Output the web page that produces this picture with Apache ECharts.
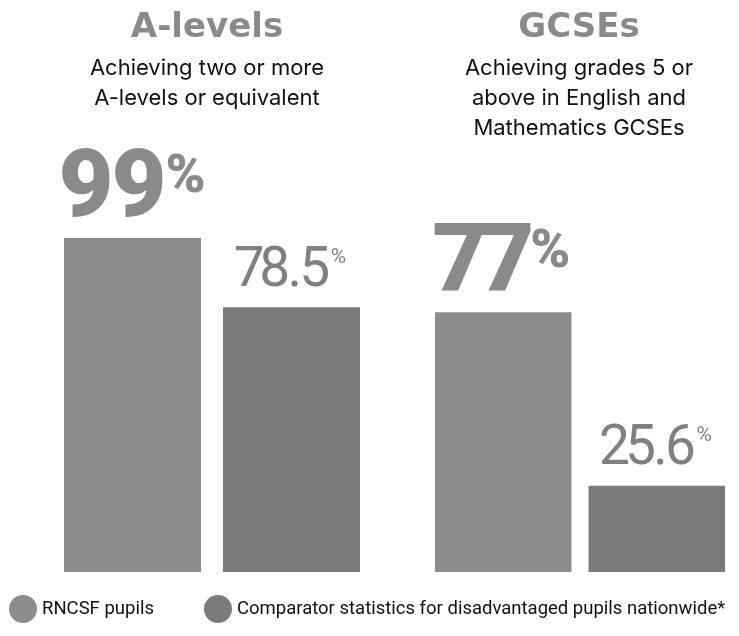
<!DOCTYPE html>
<html>
<head>
<meta charset="utf-8">
<script src="https://cdn.jsdelivr.net/npm/echarts@6/dist/echarts.min.js"></script>
<style>html,body{margin:0;padding:0;background:#fff;}#c{width:739px;height:636px;}</style>
</head>
<body>
<div id="c"></div>
<script>
// Data
const categories = ['A-levels', 'GCSEs'];
const subtitles = ['Achieving two or more\nA-levels or equivalent', 'Achieving grades 5 or\nabove in English and\nMathematics GCSEs'];
const seriesNames = ['RNCSF pupils', 'Comparator statistics for disadvantaged pupils nationwide*'];
const rncsfValues = [99, 77];
const comparatorValues = [78.5, 25.6];

const lightGrey = '#8c8c8c';
const darkGrey = '#7b7b7b';

const chart = echarts.init(document.getElementById('c'), null, {renderer: 'canvas'});

const gridTop = 234.6, gridBottom = 64;
const grids = [
  {left: 64, width: 296, top: gridTop, bottom: gridBottom},
  {left: 435, width: 290, top: gridTop, bottom: gridBottom}
];
const gaps = ['16%', '12.5%'];
const centers = [202, 574];

// tight letter spacing via per-character rich tokens
function charKey(c) { return c === '.' ? 'dot' : (c === '7' ? 'seven' : 'dig'); }
function tight(value) {
  return String(value).split('').map(c => '{' + charKey(c) + '|' + c + '}').join('') + '{p|%}';
}
const boldBase = {fontFamily: 'Roboto', fontWeight: 900, fontSize: 95, lineHeight: 80, color: '#8a8a8a'};
const boldLabel = {
  show: true, position: 'top', distance: 6,
  formatter: p => tight(p.value),
  rich: {
    dig: Object.assign({width: 53}, boldBase),
    seven: Object.assign({width: 47}, boldBase),
    dot: Object.assign({width: 24}, boldBase),
    p: {fontFamily: 'Roboto', fontWeight: 900, fontSize: 54, lineHeight: 6, verticalAlign: 'top', color: '#8a8a8a', padding: [0, 0, 0, 0]}
  }
};
const regBase = {fontFamily: 'Roboto', fontWeight: 400, fontSize: 55, lineHeight: 50, color: '#808080'};
const regLabel = {
  show: true, position: 'top', distance: 10,
  formatter: p => tight(p.value),
  rich: {
    dig: Object.assign({width: 26}, regBase),
    seven: Object.assign({width: 25}, regBase),
    dot: Object.assign({width: 14}, regBase),
    p: {fontFamily: 'Roboto', fontWeight: 400, fontSize: 21, lineHeight: 12, verticalAlign: 'top', color: '#808080', padding: [0, 0, 0, 3]}
  }
};

const series = [];
categories.forEach((cat, g) => {
  series.push({
    name: seriesNames[0], type: 'bar', xAxisIndex: g, yAxisIndex: g,
    data: [rncsfValues[g]], barGap: gaps[g], barCategoryGap: '0%',
    itemStyle: {color: lightGrey}, label: boldLabel, silent: true
  });
  series.push({
    name: seriesNames[1], type: 'bar', xAxisIndex: g, yAxisIndex: g,
    data: [comparatorValues[g]], barGap: gaps[g], barCategoryGap: '0%',
    itemStyle: {color: darkGrey}, label: regLabel, silent: true
  });
});

chart.setOption({
  animation: false,
  backgroundColor: '#fff',
  title: categories.map((cat, g) => ({
    text: cat,
    subtext: subtitles[g],
    left: centers[g], top: 3, textAlign: 'center',
    itemGap: 5,
    textStyle: {fontFamily: 'DejaVu Sans', fontWeight: 'bold', fontSize: 34, color: '#8a8a8a', lineHeight: 40},
    subtextStyle: {fontFamily: 'Inter', fontWeight: 400, fontSize: 22, color: '#111', lineHeight: 30, align: 'center'}
  })),
  legend: {
    left: 4, top: 590,
    icon: 'circle', itemWidth: 30, itemHeight: 28, itemGap: 50,
    textStyle: {fontFamily: 'Roboto', fontSize: 18.5, color: '#111', padding: [0, 0, 0, -1]},
    data: seriesNames,
    selectedMode: false
  },
  grid: grids,
  xAxis: categories.map((cat, g) => ({
    type: 'category', gridIndex: g, data: [cat], show: false
  })),
  yAxis: categories.map((cat, g) => ({
    type: 'value', gridIndex: g, min: 0, max: 100, show: false
  })),
  series: series
});
</script>
</body>
</html>
